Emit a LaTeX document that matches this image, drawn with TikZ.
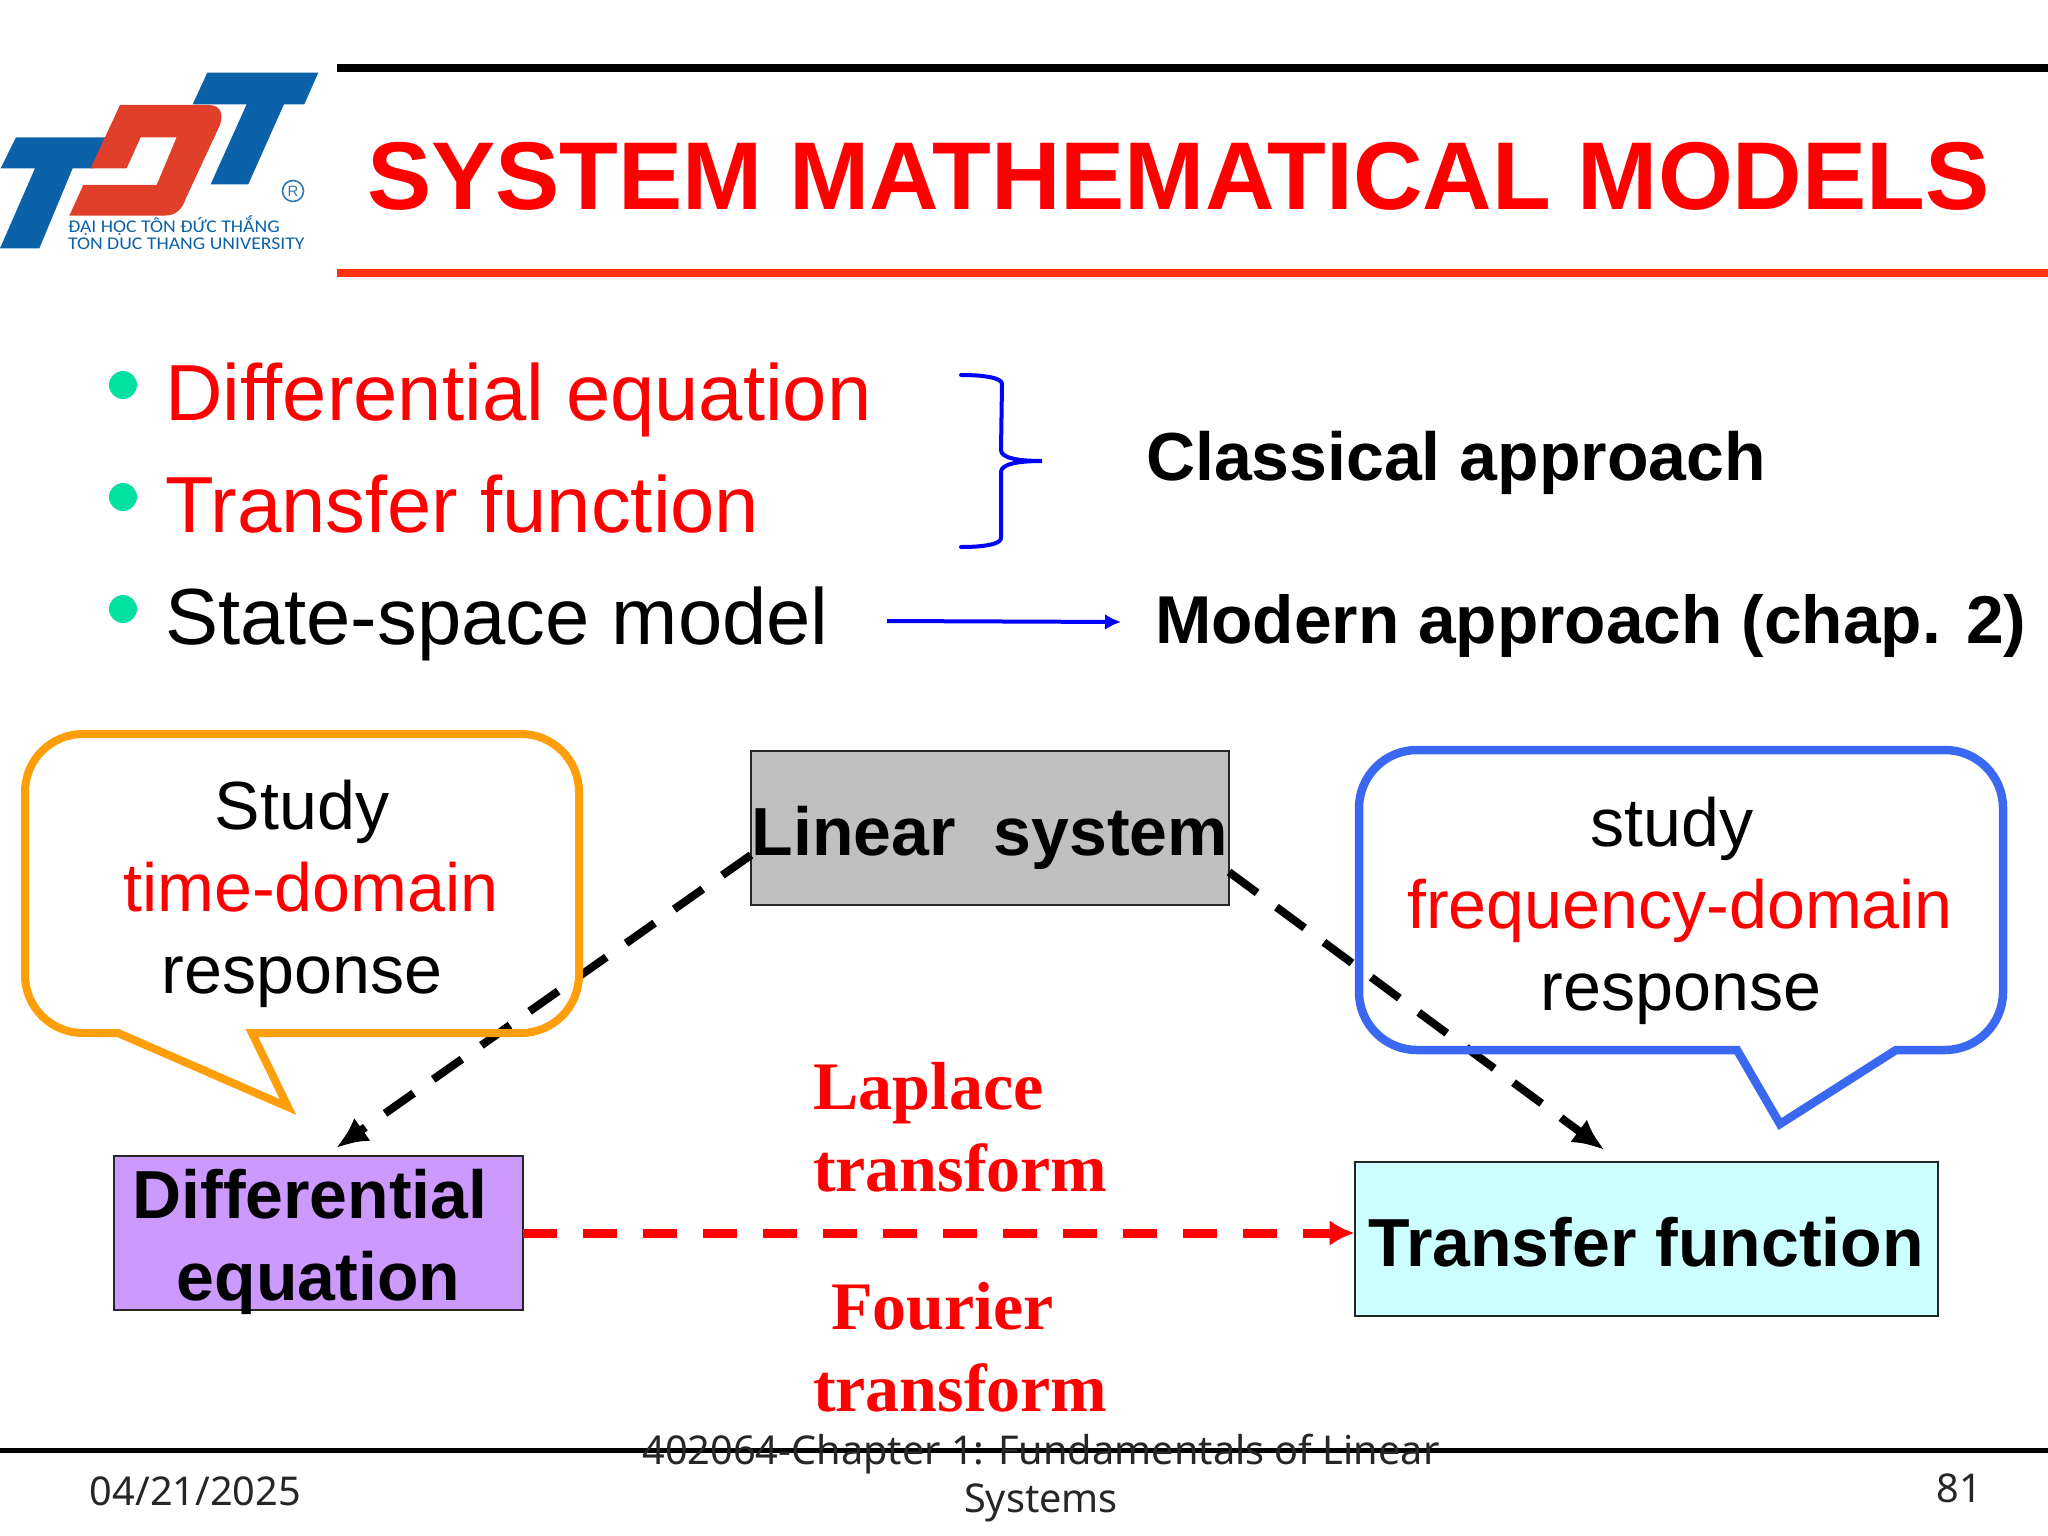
\documentclass[tikz,border=0pt]{standalone}
\usepackage{fontspec}
\setmainfont{Liberation Sans}
\newfontfamily\serifbold{Liberation Serif}[BoldFont={Liberation Serif Bold}]
\newfontfamily\footfont{Noto Sans}
\newfontfamily\logofont{Carlito}[FakeStretch=1.1]
\usetikzlibrary{arrows.meta,calc}
\definecolor{tdtblue}{HTML}{0B62A8}
\definecolor{tdtred}{HTML}{E0402A}
\definecolor{bulletgreen}{HTML}{00E0A0}
\definecolor{calloutorange}{HTML}{FF9E0B}
\definecolor{calloutblue}{HTML}{3B68F0}
\definecolor{footgrey}{HTML}{262626}
\definecolor{rulered}{HTML}{FF3311}
\definecolor{boxpurple}{HTML}{CC99FF}
\definecolor{boxcyan}{HTML}{CCFFFF}
\definecolor{boxgrey}{HTML}{C0C0C0}
\tikzset{
  txt/.style={inner sep=0pt,outer sep=0pt,anchor=base west},
  txtc/.style={inner sep=0pt,outer sep=0pt,anchor=base},
  bul/.style={txt,font=\fontsize{79.6}{79}\selectfont},
  cls/.style={txt,font=\bfseries\fontsize{68}{68}\selectfont},
  calltxt/.style={txtc,font=\fontsize{68.2}{68}\selectfont},
  trans/.style={txt,font=\serifbold\bfseries\fontsize{68}{68}\selectfont,text=red},
  foot/.style={txtc,font=\footfont\fontsize{39.7}{40}\selectfont,text=footgrey},
  logot/.style={txt,text=tdtblue,font=\logofont\fontsize{17.9}{18}\selectfont},
  boxn/.style={draw=black!85,line width=2pt,inner sep=0pt,outer sep=0pt,font=\bfseries\fontsize{68}{82}\selectfont,text=black},
  dashblack/.style={line width=8pt,dash pattern=on 35pt off 24pt,-{Latex[length=32pt,width=28pt]}},
  dashred/.style={line width=9pt,red,dash pattern=on 34pt off 26pt,-{Latex[length=25pt,width=26pt]}},
  call/.style={line join=miter,miter limit=10},
  dotb/.style={circle,fill=bulletgreen,minimum size=28pt,inner sep=0pt},
  bluethin/.style={blue,line width=4pt}
}
\begin{document}
\begin{tikzpicture}[x=1pt,y=-1pt]
\useasboundingbox (0,0) rectangle (2048,1536);
% logo
\begin{scope}[shift={(0,50)},x=0.3333pt,y=-0.3333pt]
\fill[tdtblue] (48,262) -- (320,262) -- (280,355) -- (218,355) -- (118,595) -- (0,595) -- (105,355) -- (2,355) -- cycle;
\fill[tdtblue] (622,68) -- (955,68) -- (913,163) -- (852,163) -- (745,403) -- (632,403) -- (740,163) -- (578,163) -- cycle;
\fill[tdtred] (360,165) -- (625,165) .. controls (665,165) and (670,195) .. (660,225) -- (560,440) .. controls (545,480) and (530,497) .. (490,497) -- (208,497) -- (250,405) -- (470,405) -- (530,262) -- (422,262) -- (380,355) -- (272,355) -- cycle;
\end{scope}
\node[circle,draw=tdtblue!85,line width=1.6pt,inner sep=0pt,minimum size=21pt,text=tdtblue!85,font=\fontsize{15}{15}\selectfont] (reg) at (293,191) {R};
\node[logot] (logoa) at (68,232.5) {ĐẠI HỌC TÔN ĐỨC THẮNG};
\node[logot] (logob) at (68,249) {TON DUC THANG UNIVERSITY};
% header
\coordinate (tla) at (337,68); \coordinate (tlb) at (2048,68);
\coordinate (rla) at (337,273); \coordinate (rlb) at (2048,273);
\draw[black,line width=8pt] (tla) -- (tlb);
\draw[rulered,line width=8pt] (rla) -- (rlb);
\node[txt,text=red,font=\bfseries\fontsize{96.3}{96}\selectfont] (title) at (367,209) {SYSTEM MATHEMATICAL MODELS};
% bullets
\node[dotb] (b1) at (123,385) {};
\node[dotb] (b2) at (123,497) {};
\node[dotb] (b3) at (123,609) {};
\node[bul,text=red] (t1) at (165,420) {Differential equation};
\node[bul,text=red] (t2) at (165,532) {Transfer function};
\node[bul,text=black] (t3) at (165,644) {State-space model};
\node[cls] (classical) at (1146,480) {Classical approach};
\node[cls,font=\bfseries\fontsize{67.7}{68}\selectfont] (modern) at (1155,643) {Modern approach (chap. 2)};
% brace and arrow
\draw[bluethin,line cap=round] (961,375) .. controls (985,375) and (1002,378) .. (1002,384) -- (1001,450) .. controls (1001,458) and (1018,461) .. (1042,461) .. controls (1018,461) and (1001,464) .. (1001,472) -- (1001,538) .. controls (1001,544) and (985,547) .. (961,547);
\coordinate (arra) at (887,621);
\draw[bluethin,-{Latex[length=16pt,width=16pt]}] (arra) -- ($(arra -| modern.west)+(-34,1)$);
% boxes
\node[boxn,fill=boxgrey,minimum width=478pt,minimum height=154pt,text height=55pt,text depth=0pt] (lin) at (990,828) {Linear\space\space system};
\node[boxn,fill=boxpurple,minimum width=409pt,minimum height=154pt,align=center] (diff) at (318.5,1233) {\rule{0pt}{62.5pt}Differential\hspace{17pt}\mbox{}\\\smash{equation}\rule[-9.5pt]{0pt}{9.5pt}};
\node[boxn,fill=boxcyan,minimum width=583pt,minimum height=154pt,text height=54pt,text depth=0pt] (tf) at (1646,1239) {Transfer function};
% transforms
\node[trans] (la) at (813,1109) {Laplace};
\node[trans] (lb) at (813,1191) {transform};
\node[trans] (fa) at (831,1329) {Fourier};
\node[trans] (fb) at (813,1411) {transform};
% connectors
\draw[dashblack] ($(lin.north west)+(0,104)$) -- ($(diff.north west)+(222,-8)$);
\draw[dashblack] ($(lin.north east)+(0,121)$) -- ($(tf.north west)+(250,-12)$);
\draw[dashred] (diff.east) -- (diff.east -| tf.west);
% callouts
\draw[calloutorange,call,line width=8pt] (83,734) -- (521,734) arc (-90:0:58) -- (579,975) arc (0:90:58) -- (252,1033) -- (288,1107) -- (118,1033) -- (83,1033) arc (90:180:58) -- (25,792) arc (180:270:58) -- cycle;
\draw[calloutblue,call,line width=8.5pt] (1417,750) -- (1945,750) arc (-90:0:58) -- (2003,992) arc (0:90:58) -- (1896,1050) -- (1780,1124) -- (1737,1050) -- (1417,1050) arc (90:180:58) -- (1359,808) arc (180:270:58) -- cycle;
\node[calltxt] (s1) at (302,829) {Study};
\node[calltxt,text=red] (s2) at (311,911) {time-domain};
\node[calltxt] (s3) at (302,993) {response};
\node[calltxt] (f1) at (1672,846) {study};
\node[calltxt,text=red] (f2) at (1680,928) {frequency-domain};
\node[calltxt] (f3) at (1681,1010) {response};
% footer
\coordinate (fla) at (0,1450); \coordinate (flb) at (2048,1450);
\draw[black,line width=5pt] (fla) -- (flb);
\node[foot] (date) at (195.5,1505) {04/21/2025};
\node[foot] (cap1) at (1041,1464) {402064-Chapter 1: Fundamentals of Linear};
\node[foot] (cap2) at (1041,1512) {Systems};
\node[foot] (page) at (1959,1502) {81};
\end{tikzpicture}
\end{document}
